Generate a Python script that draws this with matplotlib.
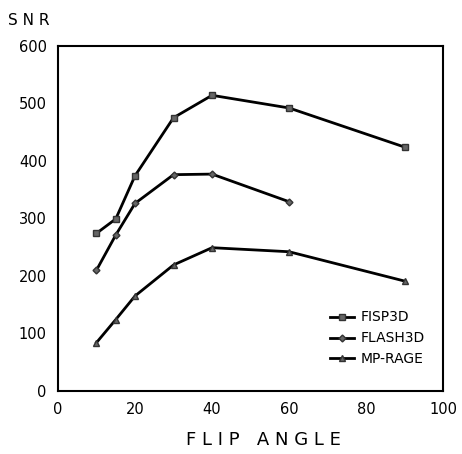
import matplotlib
matplotlib.use('Agg')
import matplotlib.pyplot as plt

# flip angle (degrees)
angles = [10, 15, 20, 30, 40, 60, 90]
angles_flash = [10, 15, 20, 30, 40, 60]

fisp3d = [274, 299, 374, 475, 514, 492, 424]
flash3d = [210, 271, 326, 376, 377, 329]
mprage = [84, 124, 165, 219, 249, 242, 191]

fig = plt.figure(figsize=(4.62, 4.54), dpi=100)
ax = fig.add_axes([0.1255, 0.139, 0.8335, 0.760])

ax.plot(angles, fisp3d, color='black', lw=2, marker='s', ms=4.5,
        mfc='#666666', mec='#333333', label='FISP3D')
ax.plot(angles_flash, flash3d, color='black', lw=2, marker='D', ms=3.5,
        mfc='#666666', mec='#333333', label='FLASH3D')
ax.plot(angles, mprage, color='black', lw=2, marker='^', ms=5,
        mfc='#666666', mec='#333333', label='MP-RAGE')

ax.set_xlim(0, 100)
ax.set_ylim(0, 600)
ax.set_xticks([0, 20, 40, 60, 80, 100])
ax.set_yticks([0, 100, 200, 300, 400, 500, 600])
ax.tick_params(length=0, labelsize=10.5, pad=8)
for s in ax.spines.values():
    s.set_linewidth(1.5)

fig.text(0.018, 0.955, 'S N R', fontsize=11, ha='left', va='center')
fig.text(0.57, 0.03, 'F L I P   A N G L E', fontsize=13, ha='center', va='center')

leg = ax.legend(loc='lower right', bbox_to_anchor=(0.985, 0.035), frameon=False,
                fontsize=10, handlelength=1.7, handletextpad=0.5, labelspacing=0.5)

fig.savefig('out.png', dpi=100)
